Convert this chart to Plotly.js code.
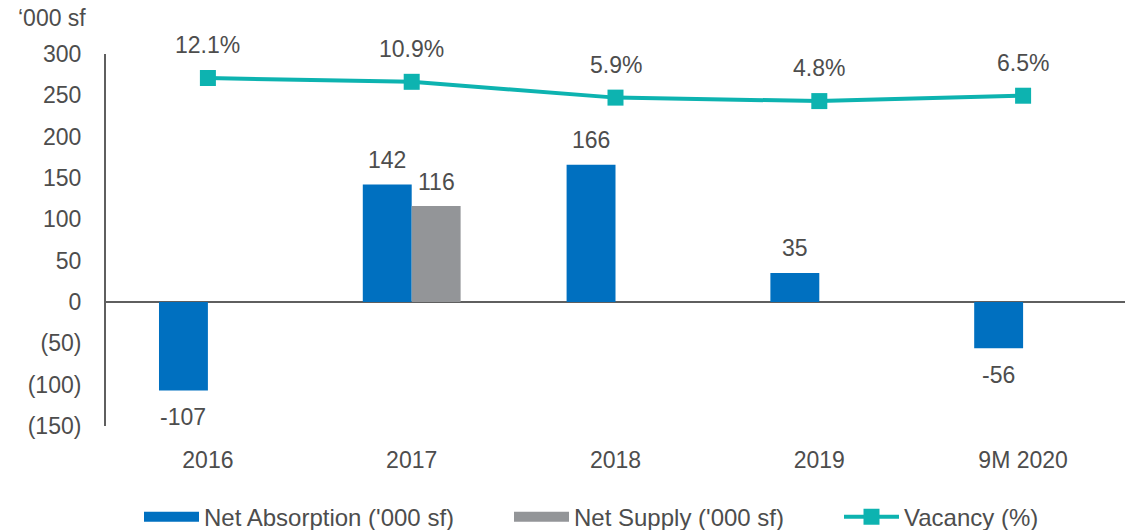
<!DOCTYPE html>
<html><head><meta charset="utf-8">
<script src="https://cdn.plot.ly/plotly-3.0.1.min.js"></script>
<style>html,body{margin:0;padding:0;background:#fff}#chart{width:1125px;height:530px}</style>
</head><body><div id="chart"></div>
<script>
const categories = ["2016", "2017", "2018", "2019", "9M 2020"];
const netAbsorption = [-107, 142, 166, 35, -56];
const netSupply = [null, 116, null, null, null];
const vacancy = [12.1, 10.9, 5.9, 4.8, 6.5];
const yTickVals = [300, 250, 200, 150, 100, 50, 0, -50, -100, -150];
const yTickText = ["300", "250", "200", "150", "100", "50", "0", "(50)", "(100)", "(150)"];
const seriesNames = ["Net Absorption ('000 sf)", "Net Supply ('000 sf)", "Vacancy (%)"];

const FONT = "Liberation Sans, Arial, sans-serif";
const FS = 23;
const TXT = "#4d4d4d";
const BLUE = "#0070C0", GREY = "#939598", TEAL = "#0DB3B0";
const nulls = categories.map(() => null);

const traces = [
  {type: "bar", x: categories, y: netAbsorption, name: seriesNames[0], marker: {color: BLUE}, showlegend: false},
  {type: "bar", x: categories, y: netSupply, name: seriesNames[1], marker: {color: GREY}, showlegend: false},
  {type: "scatter", mode: "lines+markers", x: categories, y: vacancy, yaxis: "y2", name: seriesNames[2], line: {color: TEAL, width: 4}, marker: {symbol: "square", size: 16, color: TEAL}, showlegend: false},
  // legend-only entries (wide swatches like the reference)
  {type: "scatter", mode: "lines", x: categories, y: nulls, name: seriesNames[0], line: {color: BLUE, width: 12}, showlegend: true, legend: "legend", hoverinfo: "skip"},
  {type: "scatter", mode: "lines", x: categories, y: nulls, name: seriesNames[1], line: {color: GREY, width: 12}, showlegend: true, legend: "legend2", hoverinfo: "skip"},
  {type: "scatter", mode: "lines+markers", x: categories, y: nulls, yaxis: "y2", name: seriesNames[2], line: {color: TEAL, width: 4}, marker: {symbol: "square", size: 16, color: TEAL}, showlegend: true, legend: "legend3", hoverinfo: "skip"}
];

const annotations = [];
categories.forEach((c, i) => {
  const v = netAbsorption[i];
  if (v !== null) annotations.push({x: i, y: v, xref: "x", yref: "y", text: String(v), showarrow: false, xshift: -24.5, yshift: v >= 0 ? 25 : -27, font: {family: FONT, size: FS, color: TXT}});
  const s = netSupply[i];
  if (s !== null) annotations.push({x: i, y: s, xref: "x", yref: "y", text: String(s), showarrow: false, xshift: 24.5, yshift: 24, font: {family: FONT, size: FS, color: TXT}});
  annotations.push({x: i, y: vacancy[i], xref: "x", yref: "y2", text: vacancy[i].toFixed(1) + "%", showarrow: false, yshift: 33, font: {family: FONT, size: FS, color: TXT}});
});
annotations.push({x: (16 - 106) / 1019, y: (426 - 18) / 372, xref: "paper", yref: "paper", yanchor: "middle", xanchor: "left", text: "‘000 sf", showarrow: false, font: {family: FONT, size: FS, color: TXT}});

const legendBase = {orientation: "h", y: -0.245, yanchor: "middle", xanchor: "left", itemwidth: 55, font: {family: FONT, size: 24, color: TXT}, bgcolor: "rgba(0,0,0,0)"};

const layout = {
  width: 1125, height: 530,
  margin: {l: 106, r: 0, t: 54, b: 104, autoexpand: false},
  paper_bgcolor: "#fff", plot_bgcolor: "#fff",
  font: {family: FONT, size: FS, color: TXT},
  barmode: "group", bargap: 0.52, bargroupgap: 0,
  xaxis: {type: "category", categoryorder: "array", categoryarray: categories, range: [-0.5, categories.length - 0.5], showline: false, showgrid: false, zeroline: false, ticks: "", ticklabelstandoff: 18, tickfont: {family: FONT, size: FS, color: TXT}},
  yaxis: {range: [-150, 300], tickvals: yTickVals, ticktext: yTickText, showgrid: false, zeroline: true, zerolinecolor: "#5f5f5f", zerolinewidth: 2, showline: true, linecolor: "#5f5f5f", linewidth: 2, ticks: "", ticklabelstandoff: 18, tickfont: {family: FONT, size: FS, color: TXT}},
  yaxis2: {overlaying: "y", range: [-98, 19.7], visible: false, showgrid: false, zeroline: false},
  legend: Object.assign({}, legendBase, {x: (139 - 106) / 1019}),
  legend2: Object.assign({}, legendBase, {x: (509 - 106) / 1019}),
  legend3: Object.assign({}, legendBase, {x: (839 - 106) / 1019}),
  annotations: annotations,
  showlegend: true
};

Plotly.newPlot("chart", traces, layout, {displayModeBar: false, staticPlot: true});
</script></body></html>
